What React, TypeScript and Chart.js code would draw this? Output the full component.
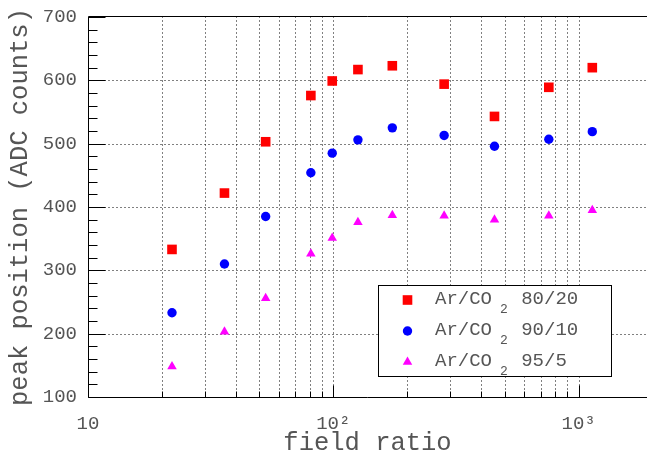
import React, { useEffect, useRef } from 'react';
import { Chart, registerables } from 'chart.js';
import { drawPoint } from 'chart.js/helpers';

Chart.register(...registerables);

// ---- data ----
const fieldRatio = [22, 36, 53, 81, 99, 126, 174, 283, 454, 756, 1137];
const peak8020 = [333, 422, 503, 576, 599, 617, 623, 594, 543, 589, 620];
const peak9010 = [233, 310, 385, 454, 485, 506, 525, 513, 496, 507, 519];
const peak955 = [148, 203, 256, 326, 351, 376, 387, 386, 380, 386, 395];
const seriesLabels = ['Ar/CO₂ 80/20', 'Ar/CO₂ 90/10', 'Ar/CO₂ 95/5'];
const seriesColors = ['#ff0000', '#0000ff', '#ff00ff'];
const seriesMarkers = ['rect', 'circle', 'triangle'];
const seriesMarkerRadius = [6.8, 4.7, 5.5];
const xMin = 10;
const xMax = 1900;
const yMin = 100;
const yMax = 700;
const yStep = 100;
const xTitle = 'field ratio';
const yTitle = 'peak position (ADC counts)';

const FONT = "'Liberation Mono', 'DejaVu Sans Mono', monospace";
const TEXT = '#555';
const SUP: Record<string, string> = { '0': '⁰', '1': '¹', '2': '²', '3': '³', '4': '⁴', '5': '⁵' };

const zeroPad = (s: any) => {
  s.paddingLeft = 0;
  s.paddingRight = 0;
  s.paddingTop = 0;
  s.paddingBottom = 0;
};

const axesPlugin = {
  id: 'rootAxes',
  beforeDatasetsDraw(chart: any) {
    const { ctx, chartArea: a, scales } = chart;
    const x = scales.x;
    const y = scales.y;
    const px = (v: number) => Math.round(x.getPixelForValue(v)) + 0.5;
    const py = (v: number) => Math.round(y.getPixelForValue(v)) + 0.5;
    const L = Math.round(a.left) + 0.5;
    const B = Math.round(a.bottom) + 0.5;
    const T = Math.round(a.top) - 0.5;

    const xVals: { v: number; major: boolean }[] = [];
    for (let d = Math.floor(Math.log10(x.min)); d <= Math.ceil(Math.log10(x.max)); d++) {
      for (let k = 1; k <= 9; k++) {
        const v = k * Math.pow(10, d);
        if (v >= x.min && v <= x.max) xVals.push({ v, major: k === 1 });
      }
    }

    ctx.save();
    ctx.lineWidth = 1;
    ctx.strokeStyle = '#000';
    ctx.setLineDash([1, 3]);
    ctx.beginPath();
    y.ticks.forEach((t: any) => {
      if (t.value > y.min && t.value < y.max) {
        const p = py(t.value);
        ctx.moveTo(L, p);
        ctx.lineTo(a.right, p);
      }
    });
    xVals.forEach(({ v }) => {
      if (v > x.min && v < x.max) {
        const p = px(v);
        ctx.moveTo(p, B);
        ctx.lineTo(p, T);
      }
    });
    ctx.stroke();
    ctx.setLineDash([]);

    ctx.beginPath();
    const minor = yStep / 5;
    for (let v = y.min; v <= y.max + 1e-6; v += minor) {
      const major = Math.abs(v / yStep - Math.round(v / yStep)) < 1e-6;
      const p = py(v);
      ctx.moveTo(L, p);
      ctx.lineTo(L + (major ? 17 : 9), p);
    }
    xVals.forEach(({ v, major }) => {
      const p = px(v);
      ctx.moveTo(p, B);
      ctx.lineTo(p, B - (major ? 12 : 6));
    });
    ctx.stroke();

    ctx.beginPath();
    ctx.moveTo(a.right, T);
    ctx.lineTo(L, T);
    ctx.lineTo(L, B);
    ctx.lineTo(a.right, B);
    ctx.stroke();
    ctx.restore();
  },
};

const legendPlugin = {
  id: 'boxLegend',
  afterDraw(chart: any) {
    const { ctx } = chart;
    const bx = 378.5;
    const by = 285.5;
    const bw = 233;
    const bh = 91;
    ctx.save();
    ctx.fillStyle = '#fff';
    ctx.fillRect(bx, by, bw, bh);
    ctx.strokeStyle = '#000';
    ctx.lineWidth = 1;
    ctx.strokeRect(bx, by, bw, bh);

    chart.data.datasets.forEach((ds: any, i: number) => {
      const cy = 300 + i * 31;
      ctx.fillStyle = ds.backgroundColor;
      drawPoint(ctx, { pointStyle: ds.pointStyle, rotation: 0, radius: ds.pointRadius, borderWidth: 0 } as any, 407.5, cy);

      const [main, rest] = String(ds.label).split('₂');
      ctx.fillStyle = TEXT;
      ctx.textBaseline = 'middle';
      ctx.textAlign = 'left';
      ctx.font = `19px ${FONT}`;
      let tx = 435;
      ctx.fillText(main, tx, cy - 1);
      tx += ctx.measureText(main).width + 8;
      ctx.font = `13px ${FONT}`;
      ctx.textBaseline = 'alphabetic';
      ctx.fillText('2', tx, cy + 13);
      tx += ctx.measureText('2').width + 2;
      ctx.font = `19px ${FONT}`;
      ctx.textBaseline = 'middle';
      ctx.fillText(rest, tx, cy - 1);
    });
    ctx.restore();
  },
};

export default function App() {
  const ref = useRef<HTMLCanvasElement>(null);

  useEffect(() => {
    if (!ref.current) return;
    const series = [peak8020, peak9010, peak955];
    const chart = new Chart(ref.current, {
      type: 'scatter',
      data: {
        datasets: series.map((vals, i) => ({
          label: seriesLabels[i],
          data: fieldRatio.map((fx, j) => ({ x: fx, y: vals[j] })),
          backgroundColor: seriesColors[i],
          borderColor: seriesColors[i],
          borderWidth: 0,
          pointStyle: seriesMarkers[i] as any,
          pointRadius: seriesMarkerRadius[i],
          pointHoverRadius: seriesMarkerRadius[i],
          showLine: false,
        })),
      },
      options: {
        responsive: false,
        animation: false,
        devicePixelRatio: 1,
        layout: { autoPadding: false, padding: { top: 17, left: 0, right: 0, bottom: 0 } },
        plugins: {
          legend: { display: false },
          tooltip: { enabled: false },
        },
        scales: {
          x: {
            type: 'logarithmic',
            position: 'bottom',
            min: xMin,
            max: xMax,
            grid: { display: false, drawTicks: false },
            border: { display: false },
            afterFit: (s: any) => {
              s.height = 64;
              zeroPad(s);
            },
            ticks: {
              autoSkip: false,
              maxRotation: 0,
              minRotation: 0,
              padding: 16,
              color: TEXT,
              font: { family: FONT, size: 19 },
              callback: (value: any) => {
                const v = Number(value);
                const e = Math.log10(v);
                if (Math.abs(e - Math.round(e)) > 1e-9) return '';
                const ei = Math.round(e);
                return ei === 1 ? '10' : '10' + String(ei).split('').map((c) => SUP[c]).join('');
              },
            },
            title: {
              display: true,
              text: xTitle,
              color: TEXT,
              font: { family: FONT, size: 25.5 },
              padding: { top: 0, bottom: 2 },
            },
          },
          y: {
            type: 'linear',
            min: yMin,
            max: yMax,
            grid: { display: false, drawTicks: false },
            border: { display: false },
            afterFit: (s: any) => {
              s.width = 88;
              zeroPad(s);
            },
            ticks: {
              stepSize: yStep,
              padding: 11,
              color: TEXT,
              font: { family: FONT, size: 19 },
            },
            title: {
              display: true,
              text: yTitle,
              color: TEXT,
              font: { family: FONT, size: 25.5 },
              padding: { top: 5, bottom: 0 },
            },
          },
        },
      },
      plugins: [axesPlugin, legendPlugin],
    });
    return () => chart.destroy();
  }, []);

  return (
    <div style={{ position: 'absolute', left: 0, top: 0, width: 647, height: 461, background: '#fff' }}>
      <canvas ref={ref} width={647} height={461} style={{ display: 'block' }} />
    </div>
  );
}
